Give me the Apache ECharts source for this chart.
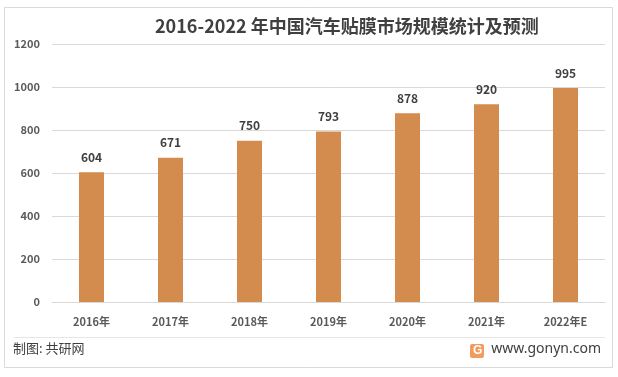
<!DOCTYPE html>
<html>
<head>
<meta charset="utf-8">
<script src="https://cdn.jsdelivr.net/npm/echarts@6/dist/echarts.min.js"></script>
<style>
  html, body { margin: 0; padding: 0; background: #fff; }
  #main { width: 618px; height: 377px; }
</style>
</head>
<body>
<div id="main"></div>
<script>
var years = ['2016年', '2017年', '2018年', '2019年', '2020年', '2021年', '2022年E']
var marketSize = [604, 671, 750, 793, 878, 920, 995]

var chart = echarts.init(document.getElementById('main'))
var font = '"Microsoft YaHei", "Noto Sans CJK SC", sans-serif'

chart.setOption({
  animation: false,
  textStyle: { fontFamily: font },
  title: {
    text: '2016-2022 年中国汽车贴膜市场规模统计及预测',
    left: 150,
    top: 12,
    textStyle: { fontSize: 18, fontWeight: 'bold', color: '#404040', fontFamily: font }
  },
  grid: { left: 52, right: 13, top: 44, bottom: 75 },
  xAxis: {
    type: 'category',
    data: years,
    axisLine: { lineStyle: { color: '#d9d9d9' } },
    axisTick: { show: false },
    axisLabel: { color: '#595959', fontSize: 11, fontWeight: 'bold', margin: 14 }
  },
  yAxis: {
    type: 'value',
    min: 0,
    max: 1200,
    interval: 200,
    axisLine: { show: false },
    axisTick: { show: false },
    axisLabel: {
      color: '#595959', fontSize: 11, fontWeight: 'bold', margin: 12,
      formatter: function (v) { return String(v) }
    },
    splitLine: { lineStyle: { color: '#d9d9d9' } }
  },
  series: [{
    type: 'bar',
    data: marketSize,
    barWidth: 25,
    itemStyle: { color: '#D38B4E' },
    label: {
      show: true,
      position: 'top',
      distance: 9,
      color: '#404040',
      fontSize: 12,
      fontWeight: 'bold'
    }
  }],
  graphic: [
    // 外框
    { type: 'rect', shape: { x: 4.5, y: 7.5, width: 608, height: 360 }, style: { fill: 'none', stroke: '#d9d9d9', lineWidth: 1 }, silent: true },
    // 底部分隔线
    { type: 'line', shape: { x1: 14, y1: 337.5, x2: 605, y2: 337.5 }, style: { stroke: '#e6e6e6', lineWidth: 1 } },
    { type: 'text', left: 13, top: 342, style: { text: '制图: 共研网', fill: '#404040', font: '13px ' + font } },
    { type: 'rect', shape: { x: 470, y: 344, width: 14, height: 14, r: 2 }, style: { fill: '#F39A5E' } },
    { type: 'text', x: 473, y: 345, style: { text: 'G', fill: '#fff', font: 'bold 12px sans-serif' } },
    { type: 'text', right: 17, top: 342, style: { text: 'www.gonyn.com', fill: '#404040', font: '14px "Noto Sans", sans-serif' } }
  ]
})
</script>
</body>
</html>
